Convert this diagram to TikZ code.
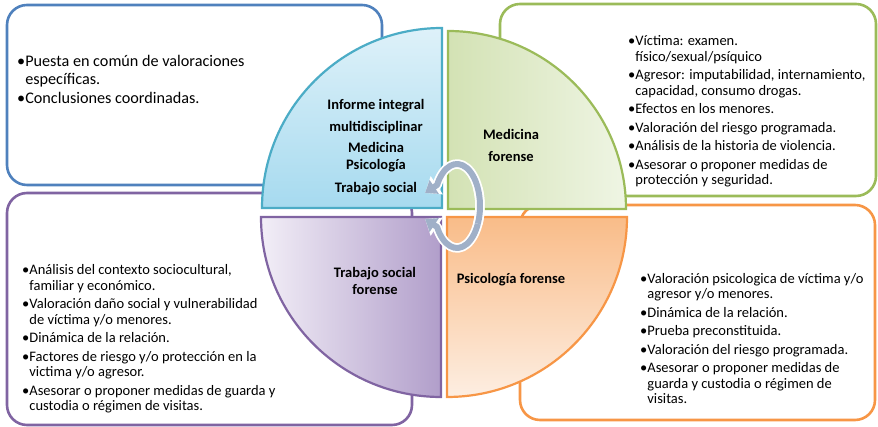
\documentclass[tikz,border=0pt]{standalone}
\usepackage{fontspec}
\setmainfont{Carlito}
\usepackage{tikz}
\usetikzlibrary{arrows.meta}

\definecolor{bluebox}{HTML}{4F81BD}
\definecolor{aqua}{HTML}{4BACC6}
\definecolor{greenbox}{HTML}{9BBB59}
\definecolor{purplebox}{HTML}{8064A2}
\definecolor{orangebox}{HTML}{F79646}
\definecolor{arrowgray}{HTML}{A0B0C8}
\definecolor{blueTop}{HTML}{DEF1F9}
\definecolor{blueBot}{HTML}{A6DAEF}
\definecolor{greenL}{HTML}{D3E2B4}
\definecolor{greenR}{HTML}{EFF5E4}
\definecolor{purpleL}{HTML}{F2EEF7}
\definecolor{purpleR}{HTML}{B19ECA}
\definecolor{orangeT}{HTML}{F9BC88}
\definecolor{orangeB}{HTML}{FDEEE2}

\newcommand{\bul}{\textbullet}
\newcommand{\ind}{\hphantom{\textbullet}}

\begin{document}
\begin{tikzpicture}[x=1pt,y=1pt,
  infobox/.style={line width=2.6pt,rounded corners=20pt,fill=white},
  quarter/.style={line width=2.2pt},
  bodytext/.style={anchor=base west,inner sep=0pt,align=left,font=\fontsize{14.5}{15.5}\selectfont},
  quadtext/.style={anchor=base,inner sep=0pt,align=center,font=\fontsize{14.5}{17}\selectfont\bfseries},
  cyclearrow/.style={arrowgray,line width=6pt,line join=round,-{Triangle[width=16pt,length=11pt]}},
  cycleedge/.style={white,line width=9.5pt,line join=round,-{Triangle[width=21pt,length=14pt]}}]

\useasboundingbox (0,0) rectangle (878,427);

%outer boxes with the lists
\draw[infobox,draw=bluebox] (7,242) rectangle (382,422);
\draw[infobox,draw=greenbox] (500,231) rectangle (876,423);
\draw[infobox,draw=purplebox] (7,2) rectangle (412,234);
\draw[infobox,draw=orangebox] (520,7) rectangle (875,222);

%the four quarters of the circle
\draw[quarter,draw=aqua,top color=blueTop,bottom color=blueBot]
  (442,219) -- (262,219) arc[start angle=180,end angle=90,radius=180] -- cycle;
\draw[quarter,draw=greenbox,left color=greenL,right color=greenR]
  (448,218) -- (448,396) arc[start angle=90,end angle=0,radius=178] -- cycle;
\draw[quarter,draw=purplebox,left color=purpleL,right color=purpleR]
  (441,210) -- (261,210) arc[start angle=180,end angle=270,radius=180] -- cycle;
\draw[quarter,draw=orangebox,top color=orangeT,bottom color=orangeB]
  (447,210) -- (627,210) arc[start angle=0,end angle=-90,radius=180] -- cycle;

%circular arrows in the middle
\begin{scope}[shift={(457,221)}]
  \draw[cycleedge] (25:23 and 42) arc[start angle=25,end angle=-150,x radius=23,y radius=42] -- ++(-12,8);
  \draw[cyclearrow] (25:23 and 42) arc[start angle=25,end angle=-150,x radius=23,y radius=42] -- ++(-12,8);
  \draw[cycleedge] (-25:23 and 42) arc[start angle=-25,end angle=150,x radius=23,y radius=42] -- ++(-12,-8);
  \draw[cyclearrow] (-25:23 and 42) arc[start angle=-25,end angle=150,x radius=23,y radius=42] -- ++(-12,-8);
\end{scope}

%labels of the quarters
\node[quadtext] (informe) at (376,234) {Informe integral\\[5pt]
  multidisciplinar\\[4pt] Medicina\\ Psicología\\[6pt] Trabajo social};
\node[quadtext] (medicina) at (511,265) {Medicina\\[5pt] forense};
\node[quadtext] (trabajo) at (375,132) {Trabajo social\\ forense};
\node[quadtext] (psicologia) at (511,143) {Psicología forense};

%lists
\node[bodytext,font=\fontsize{16.2}{18}\selectfont] (comun) at (17,323)
  {\bul Puesta en común de valoraciones\\ \ind específicas.\\[1pt]
   \bul Conclusiones coordinadas.};
\node[bodytext] (medlist) at (628,242)
  {\bul Víctima: examen.\\ \ind físico/sexual/psíquico\\[3pt]
   \bul Agresor: imputabilidad, internamiento,\\ \ind capacidad, consumo drogas.\\[3pt]
   \bul Efectos en los menores.\\[3pt]
   \bul Valoración del riesgo programada.\\[3pt]
   \bul Análisis de la historia de violencia.\\[3pt]
   \bul Asesorar o proponer medidas de\\ \ind protección y seguridad.};
\node[bodytext] (sociallist) at (22,16)
  {\bul Análisis del contexto sociocultural,\\ \ind familiar y económico.\\[3pt]
   \bul Valoración daño social y vulnerabilidad\\ \ind de víctima y/o menores.\\[3pt]
   \bul Dinámica de la relación.\\[3pt]
   \bul Factores de riesgo y/o protección en la\\ \ind victima y/o agresor.\\[3pt]
   \bul Asesorar o proponer medidas de guarda y\\ \ind custodia o régimen de visitas.};
\node[bodytext] (psilist) at (640,23)
  {\bul Valoración psicologica de víctima y/o\\ \ind agresor y/o menores.\\[3pt]
   \bul Dinámica de la relación.\\[3pt]
   \bul Prueba preconstituida.\\[3pt]
   \bul Valoración del riesgo programada.\\[3pt]
   \bul Asesorar o proponer medidas de\\ \ind guarda y custodia o régimen de\\ \ind visitas.};

\end{tikzpicture}
\end{document}
